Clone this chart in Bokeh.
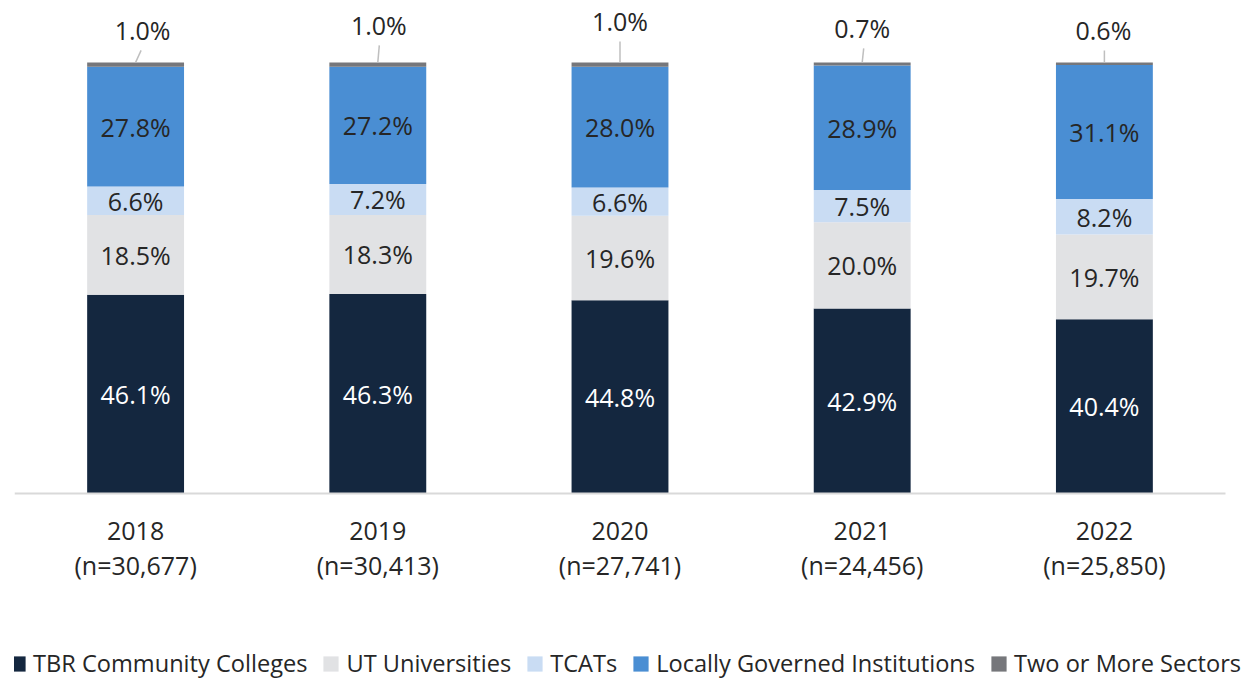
import numpy as np
from bokeh.plotting import figure
from bokeh.models import ColumnDataSource, Legend, LegendItem, FixedTicker, Range1d
from bokeh.core.properties import value
from bokeh.embed import file_html
from bokeh.resources import INLINE

years = ["2018", "2019", "2020", "2021", "2022"]
n_counts = ["30,677", "30,413", "27,741", "24,456", "25,850"]
tbr = [46.1, 46.3, 44.8, 42.9, 40.4]
ut = [18.5, 18.3, 19.6, 20.0, 19.7]
tcat = [6.6, 7.2, 6.6, 7.5, 8.2]
lgi = [27.8, 27.2, 28.0, 28.9, 31.1]
two = [1.0, 1.0, 1.0, 0.7, 0.6]

series_names = ["TBR Community Colleges", "UT Universities", "TCATs",
                "Locally Governed Institutions", "Two or More Sectors"]
series_vals = [tbr, ut, tcat, lgi, two]
colors = ["#14273f", "#e1e2e4", "#c9dcf3", "#4a8ed3", "#76777b"]
text_colors = ["#ffffff", "#262626", "#262626", "#262626", "#262626"]

FONT = "Open Sans"
N = len(years)
PX_PER_X = 1211 / N
FRAME_W, FRAME_H = 1237, 670
PX_PER_Y = 485 / 112.5
Y_END = 112.5
Y_START = Y_END - FRAME_H / PX_PER_Y
X_START = -0.5
X_END = X_START + FRAME_W / PX_PER_X

# top-label screen offsets (pixels): dx, dy of label; dx of leader top
top_label_dx = [7, 1, 0, 0, -1]
top_label_dy = [-32, -37, -41, -34, -32]
leader_dx = [5.5, 1.5, 0, 1.5, 0]

p = figure(width=1251, height=678,
           x_range=Range1d(X_START, X_END), y_range=Range1d(Y_START, Y_END),
           output_backend="svg", toolbar_location=None,
           min_border_left=14, min_border_right=0, min_border_top=8,
           min_border_bottom=0)
p.background_fill_color = None
p.border_fill_color = "white"
p.outline_line_color = None
p.grid.visible = False
p.yaxis.visible = False

x = np.arange(N)
bottom = np.zeros(N)
items = []
for name, vals, col, tcol in zip(series_names, series_vals, colors, text_colors):
    vals = np.array(vals, dtype=float)
    top = bottom + vals
    src = ColumnDataSource(dict(x=x, bottom=bottom, top=top, mid=bottom + vals / 2,
                                lab=[f"{v:.1f}%" for v in vals]))
    r = p.vbar(x="x", bottom="bottom", top="top", width=0.4, fill_color=col,
               line_color=None, source=src)
    items.append(LegendItem(label=name, renderers=[r]))
    if name != "Two or More Sectors":
        p.text(x="x", y="mid", text="lab", source=src, text_align="center",
               text_baseline="middle", text_color=tcol,
               text_font=value(FONT), text_font_size="25px")
    bottom = top

# top labels for the thin "Two or More Sectors" segment
two_src = ColumnDataSource(dict(
    x=x, y=bottom, lab=[f"{v:.1f}%" for v in two],
    xo=top_label_dx, yo=top_label_dy,
    lx1=x + np.array(leader_dx) / PX_PER_X,
    ly1=bottom + (-np.array(top_label_dy) - 20) / PX_PER_Y))
p.segment(x0="x", y0="y", x1="lx1", y1="ly1", source=two_src,
          line_color="#bfbfbf", line_width=1.5)
p.text(x="x", y="y", text="lab", x_offset="xo", y_offset="yo", source=two_src,
       text_align="center", text_baseline="middle", text_color="#262626",
       text_font=value(FONT), text_font_size="25px")

xa = p.xaxis[0]
xa.fixed_location = 0
xa.bounds = (-0.5, N - 0.5)
xa.ticker = FixedTicker(ticks=list(range(N)))
xa.major_label_overrides = {i: f"{y}\n(n={n})" for i, (y, n) in enumerate(zip(years, n_counts))}
xa.major_tick_line_color = None
xa.minor_tick_line_color = None
xa.axis_line_color = "#d9d9d9"
xa.axis_line_width = 2
xa.major_label_text_font = FONT
xa.major_label_text_font_size = "25px"
xa.major_label_text_color = "#262626"
xa.major_label_text_line_height = 1.04
xa.major_label_standoff = 13

legend = Legend(items=items, orientation="horizontal", location=(-6, -1),
                label_text_font=FONT, label_text_font_size="23.6px",
                label_text_color="#262626",
                glyph_width=19, glyph_height=19, label_standoff=6, spacing=14,
                padding=0, margin=0, border_line_color=None,
                background_fill_alpha=0)
p.add_layout(legend, "center")

open("out.html", "w").write(file_html(p, INLINE))
